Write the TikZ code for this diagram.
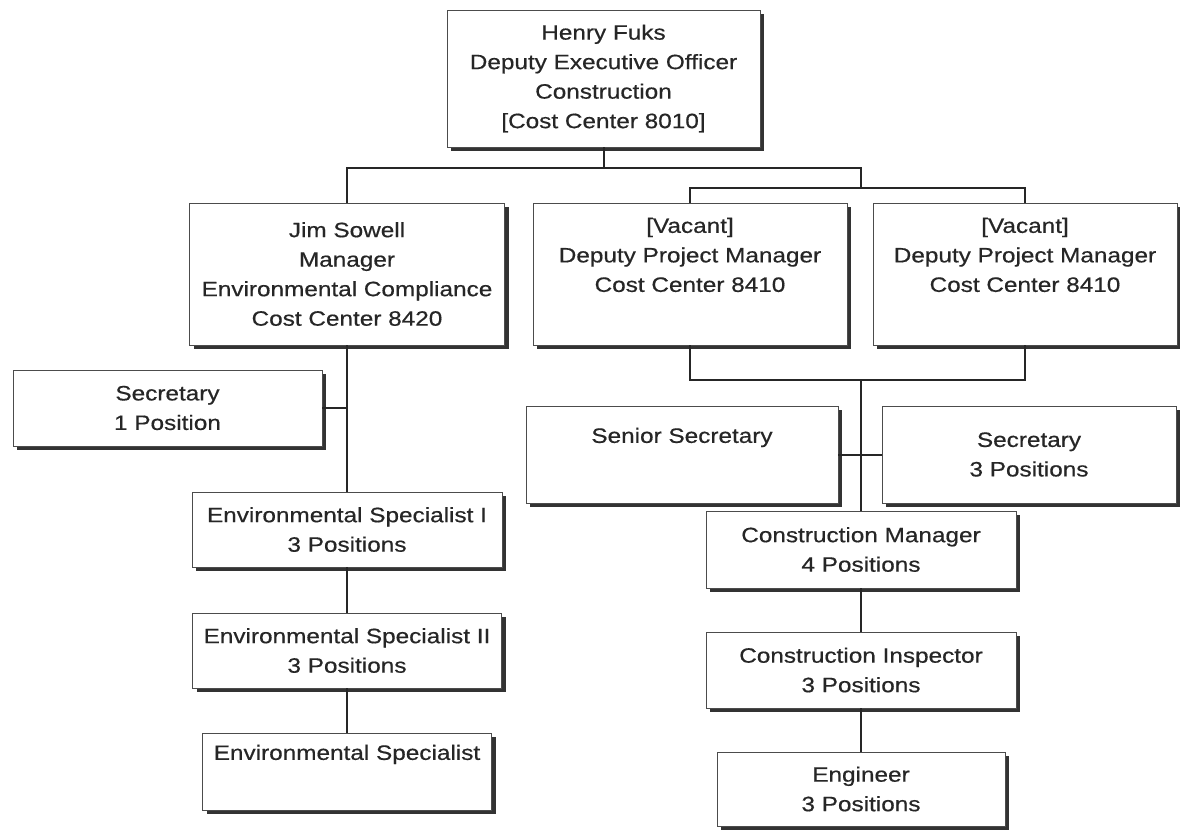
\documentclass[tikz,border=0pt]{standalone}
\usepackage{fontspec}
\setmainfont{Liberation Sans}[FakeStretch=1.17, FakeBold=0.5]
\usetikzlibrary{shadows}

\tikzset{
  unit/.style={draw=black!70, line width=0.6pt, fill=white, align=center,
    text=black!85, inner sep=0pt, font=\fontsize{20.8}{29.5}\selectfont,
    drop shadow={shadow xshift=4pt, shadow yshift=-4pt, fill=black!80, opacity=1}},
  link/.style={draw=black!85, line width=2pt}
}

\begin{document}
\begin{tikzpicture}[x=1pt, y=-1pt]
    \useasboundingbox (0,0) rectangle (1180,830);

    % Top of the chart
    \node[unit, minimum width=313pt, minimum height=137pt] (ceo) at (603.5,78.5)
        {Henry Fuks\\Deputy Executive Officer\\Construction\\{[Cost Center 8010]}};

    % Managers
    \node[unit, minimum width=315pt, minimum height=142pt] (jim) at (347,274)
        {Jim Sowell\\Manager\\Environmental Compliance\\Cost Center 8420};
    \node[unit, minimum width=314pt, minimum height=142pt] (vac1) at (690,274)
        {[Vacant]\\Deputy Project Manager\\Cost Center 8410\\ \strut};
    \node[unit, minimum width=304pt, minimum height=142pt] (vac2) at (1025,274)
        {[Vacant]\\Deputy Project Manager\\Cost Center 8410\\ \strut};

    % Environmental compliance staff
    \node[unit, minimum width=309pt, minimum height=76pt] (sec1) at (167.5,408)
        {Secretary\\1 Position};
    \node[unit, minimum width=310pt, minimum height=75pt] (esi) at (347,529.5)
        {Environmental Specialist I\\3 Positions};
    \node[unit, minimum width=309pt, minimum height=75pt] (esii) at (347,650.5)
        {Environmental Specialist II\\3 Positions};
    \node[unit, minimum width=289pt, minimum height=77pt] (es) at (347,771.5)
        {Environmental Specialist\\ \strut};

    % Construction staff
    \node[unit, minimum width=312pt, minimum height=97pt] (ssec) at (682,454.5)
        {Senior Secretary\\ \strut};
    \node[unit, minimum width=294pt, minimum height=97pt] (sec3) at (1029,454.5)
        {Secretary\\3 Positions};
    \node[unit, minimum width=310pt, minimum height=77pt] (cm) at (861,549.5)
        {Construction Manager\\4 Positions};
    \node[unit, minimum width=310pt, minimum height=76pt] (ci) at (861,670)
        {Construction Inspector\\3 Positions};
    \node[unit, minimum width=288pt, minimum height=74pt] (eng) at (861,789)
        {Engineer\\3 Positions};

    % Buses
    \coordinate (busA) at (861,168);
    \coordinate (busB) at (861,188);
    \coordinate (busC) at (861,380);

    \draw[link] (ceo.south) -- (ceo.south |- busA);
    \draw[link] (jim.north) |- (busA) -- (busB);
    \draw[link] (vac1.north) |- (busB) -| (vac2.north);
    \draw[link] (vac1.south) |- (busC) -| (vac2.south);
    \draw[link] (busC) -- (cm.north);
    \draw[link] (ssec.east) -- (sec3.west);
    \draw[link] (cm.south) -- (ci.north);
    \draw[link] (ci.south) -- (eng.north);

    \draw[link] (jim.south) -- (esi.north);
    \draw[link] (sec1.east) -- (sec1.east -| jim.south);
    \draw[link] (esi.south) -- (esii.north);
    \draw[link] (esii.south) -- (es.north);
\end{tikzpicture}
\end{document}
